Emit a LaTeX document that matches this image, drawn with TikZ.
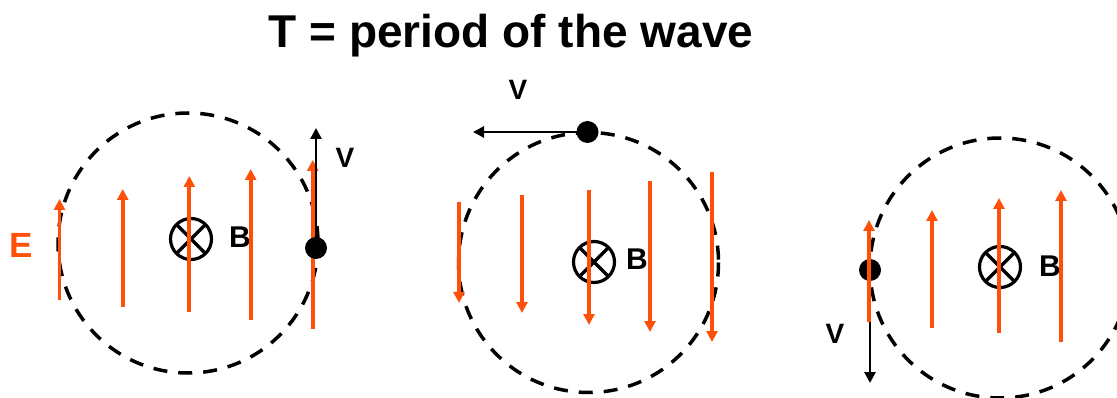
\documentclass[tikz,border=0pt]{standalone}
\usepackage{fontspec}
\setmainfont{Liberation Sans}
\usetikzlibrary{arrows.meta}
\definecolor{efield}{RGB}{255,80,10}
\begin{document}
\begin{tikzpicture}[x=1pt,y=-1pt,
  orbit/.style={draw=black, line width=3.5pt, dash pattern=on 14pt off 11pt},
  efl/.style={draw=efield, line width=3.7pt, -{Triangle[length=11pt,width=11pt]}},
  vel/.style={draw=black, line width=2.7pt, -{Triangle[length=11pt,width=11pt]}},
  charge/.style={circle, fill=black, inner sep=0pt, outer sep=0pt, minimum size=22pt},
  bin/.style={circle, draw=black, line width=3.2pt, inner sep=0pt, outer sep=0pt, minimum size=41pt},
  blab/.style={inner sep=0pt, font=\fontsize{30pt}{32pt}\selectfont\bfseries},
  vlab/.style={inner sep=0pt, font=\fontsize{28pt}{30pt}\selectfont\bfseries},
  elab/.style={inner sep=0pt, text=efield, font=\fontsize{35pt}{37pt}\selectfont\bfseries},
  ttl/.style={inner sep=0pt, anchor=base, font=\fontsize{46pt}{50pt}\selectfont\bfseries}
]
\useasboundingbox (0,0) rectangle (1117,398);
\clip (0,0) rectangle (1117,398);

\node[ttl] (title) at (511,48) {T = period of the wave};

% ---------- Panel 1 ----------
\draw[orbit] (188,243) circle (130);
\node[bin] (b1) at (191,239) {};
\draw[line width=3.2pt] (b1.north east) -- (b1.south west) (b1.north west) -- (b1.south east);
\node[blab] (B1) at (240,237) {B};
\node[elab] (E1) at (21,245) {E};
\draw[efl] (59.5,300) -- (59.5,199);
\draw[efl] (122.7,307) -- (122.7,189);
\draw[efl] (189.3,312) -- (189.3,176);
\draw[efl] (250.7,320) -- (250.7,169);
\draw[efl] (312.7,329) -- (312.7,160);
\node[charge] (q1) at (316,248) {};
\coordinate (v1end) at (316,128);
\draw[vel] (q1.center) -- (v1end);
\node[vlab] (V1) at (345,158) {V};

% ---------- Panel 2 ----------
\draw[orbit] (588.5,262.5) circle (130);
\node[bin] (b2) at (594,262) {};
\draw[line width=3.2pt] (b2.north east) -- (b2.south west) (b2.north west) -- (b2.south east);
\node[blab] (B2) at (637,259) {B};
\draw[efl] (459,202) -- (459,303);
\draw[efl] (522,195) -- (522,313);
\draw[efl] (589,190) -- (589,325);
\draw[efl] (650,181) -- (650,332);
\draw[efl] (712,172) -- (712,342);
\node[charge] (q2) at (587.5,132) {};
\coordinate (v2end) at (473,132);
\draw[vel] (q2.center) -- (v2end);
\node[vlab] (V2) at (518,90) {V};

% ---------- Panel 3 ----------
\draw[orbit] (1000,268) circle (130);
\node[bin] (b3) at (1000,267) {};
\draw[line width=3.2pt] (b3.north east) -- (b3.south west) (b3.north west) -- (b3.south east);
\node[blab] (B3) at (1050,266) {B};
\node[charge] (q3) at (870,270) {};
\coordinate (v3end) at (870,383);
\draw[vel] (q3.center) -- (v3end);
\draw[efl] (869,322) -- (869,220);
\draw[efl] (932,328) -- (932,210);
\draw[efl] (999,333) -- (999,198);
\draw[efl] (1061,342) -- (1061,190);
\draw[efl] (1124,350) -- (1124,181);
\node[vlab] (V3) at (835,334) {V};
\end{tikzpicture}
\end{document}
